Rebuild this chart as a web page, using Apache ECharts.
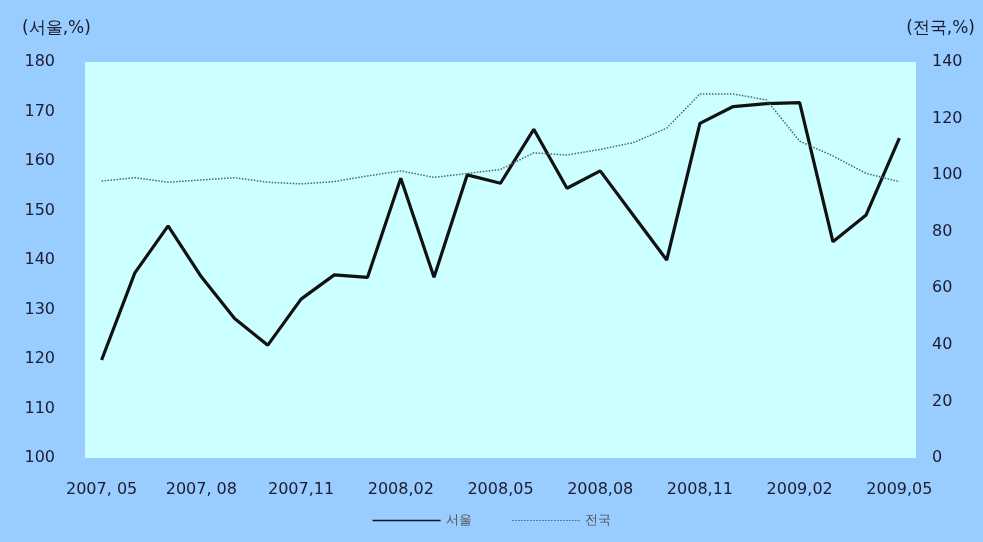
<!DOCTYPE html>
<html>
<head>
<meta charset="utf-8">
<script src="https://cdn.jsdelivr.net/npm/echarts@6/dist/echarts.min.js"></script>
<style>
  html, body { margin: 0; padding: 0; }
  #chart { width: 983px; height: 542px; }
</style>
</head>
<body>
<div id="chart"></div>
<script>
// months 2007.05 ~ 2009.05
var months = [
  '2007.05', '2007.06', '2007.07', '2007.08', '2007.09', '2007.10', '2007.11', '2007.12',
  '2008.01', '2008.02', '2008.03', '2008.04', '2008.05', '2008.06', '2008.07', '2008.08',
  '2008.09', '2008.10', '2008.11', '2008.12', '2009.01', '2009.02', '2009.03', '2009.04', '2009.05'
];
var tickLabels = ['2007, 05', '2007, 08', '2007,11', '2008,02', '2008,05', '2008,08', '2008,11', '2009,02', '2009,05'];

// 서울 (left axis)
var seoul = [119.8, 137.4, 146.9, 136.6, 128.2, 122.8, 132.1, 137.0, 136.5, 156.5, 136.5, 157.2, 155.5,
  166.4, 154.5, 158.0, 149.0, 140.0, 167.6, 171.0, 171.6, 171.8, 143.7, 149.1, 164.6];
// 전국 (right axis)
var national = [97.9, 99.1, 97.5, 98.3, 99.1, 97.5, 96.9, 97.7, 99.7, 101.5, 99.2, 100.6, 102.0,
  107.9, 107.1, 109.1, 111.5, 116.6, 128.7, 128.7, 126.6, 112.0, 106.8, 100.6, 97.7];

var font = 'DejaVu Sans';
var txt = '#1c1c30';

var myChart = echarts.init(document.getElementById('chart'));
myChart.setOption({
    backgroundColor: '#99CCFF',
    animation: false,
    grid: {
        left: 85,
        right: 67,
        top: 62,
        bottom: 84,
        show: true,
        backgroundColor: '#CCFFFF',
        borderWidth: 0
    },
    legend: {
        bottom: 10,
        left: 'center',
        itemWidth: 68,
        itemHeight: 10,
        itemGap: 40,
        itemStyle: { opacity: 0 },
        textStyle: { color: '#555', fontFamily: font, fontSize: 13 },
        data: [
            { name: '서울', lineStyle: { width: 1.5 } },
            { name: '전국', lineStyle: { width: 1 } }
        ]
    },
    xAxis: {
        type: 'category',
        data: months,
        boundaryGap: true,
        axisLine: { show: false },
        axisTick: { show: false },
        axisLabel: {
            interval: 2,
            margin: 24,
            color: txt,
            fontFamily: font,
            fontSize: 16,
            formatter: function (v, i) { return tickLabels[i / 3]; }
        }
    },
    yAxis: [{
        type: 'value',
        min: 100,
        max: 180,
        interval: 10,
        name: '(서울,%)',
        nameLocation: 'end',
        nameGap: 25,
        nameTextStyle: { color: txt, fontFamily: font, fontSize: 17, align: 'left', padding: [0, 0, 0, -63] },
        splitLine: { show: false },
        axisLine: { show: false },
        axisTick: { show: false },
        axisLabel: { color: txt, fontFamily: font, fontSize: 16, margin: 30 }
    }, {
        type: 'value',
        min: 0,
        max: 140,
        interval: 20,
        position: 'right',
        name: '(전국,%)',
        nameLocation: 'end',
        nameGap: 25,
        nameTextStyle: { color: txt, fontFamily: font, fontSize: 17, align: 'right', padding: [0, -59, 0, 0] },
        splitLine: { show: false },
        axisLine: { show: false },
        axisTick: { show: false },
        axisLabel: { color: txt, fontFamily: font, fontSize: 16, margin: 16, align: 'left' }
    }],
    series: [{
        name: '서울',
        type: 'line',
        yAxisIndex: 0,
        data: seoul,
        symbol: 'none',
        lineStyle: { color: '#111', width: 3.2 },
        itemStyle: { color: '#111' }
    }, {
        name: '전국',
        type: 'line',
        yAxisIndex: 1,
        data: national,
        symbol: 'none',
        lineStyle: { color: '#4d6666', width: 1.5, type: [1.5, 1.5] },
        itemStyle: { color: '#4d6666' }
    }]
});
</script>
</body>
</html>
